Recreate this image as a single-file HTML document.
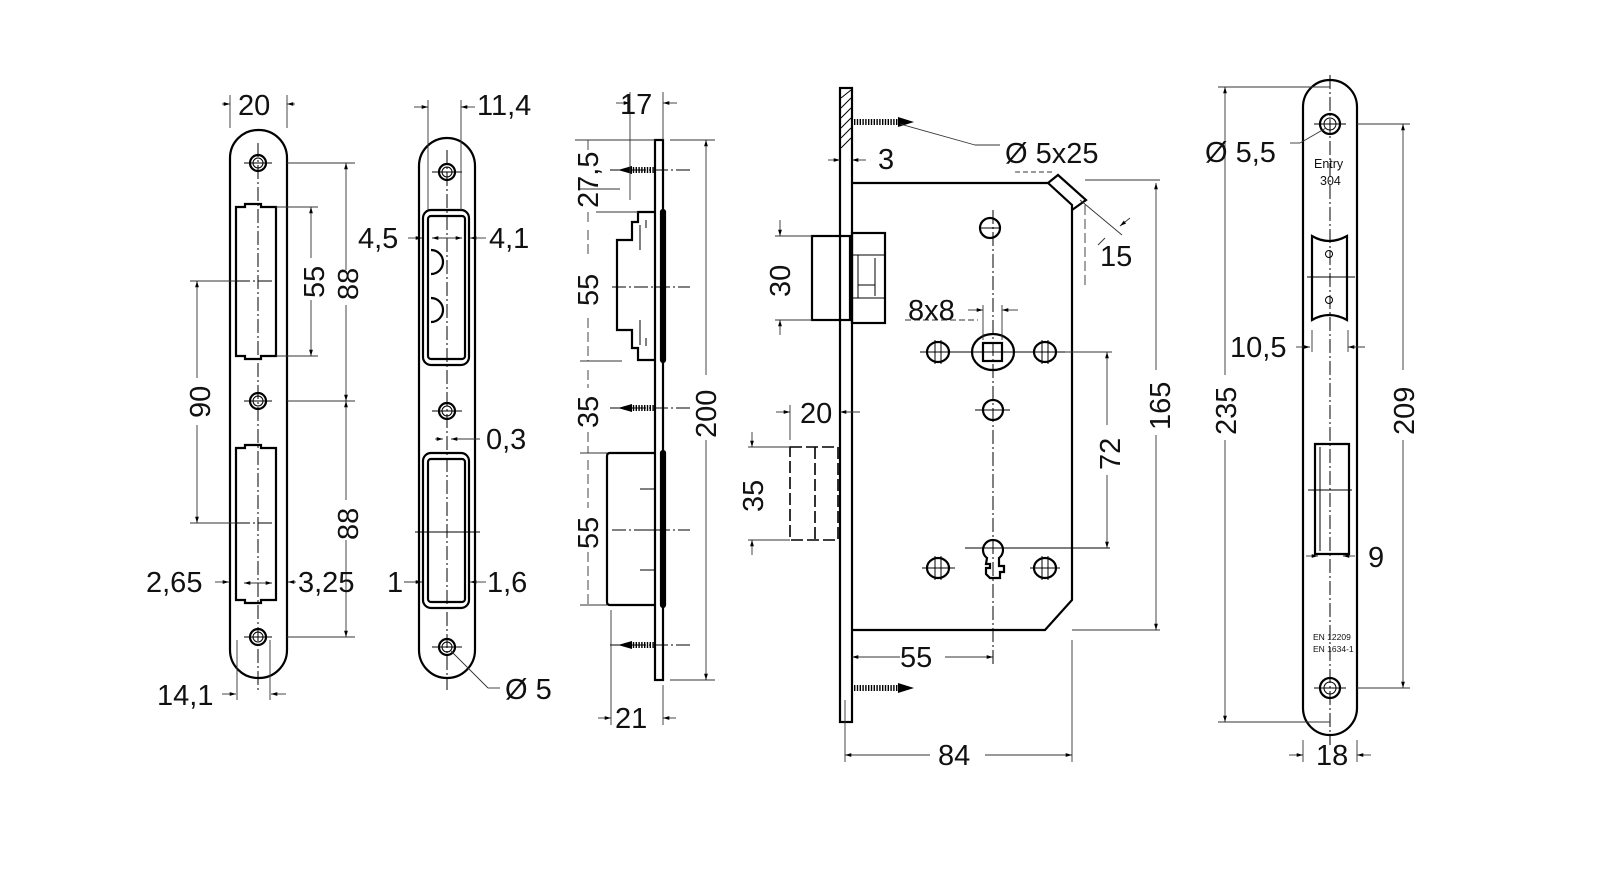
<!DOCTYPE html>
<html><head><meta charset="utf-8"><style>
html,body{margin:0;padding:0;background:#fff;width:1600px;height:873px;overflow:hidden}
svg{display:block}
text{font-family:"Liberation Sans",Arial,sans-serif;font-size:29px;fill:#111}
.o{fill:none;stroke:#000;stroke-width:2.2}
.t{fill:none;stroke:#000;stroke-width:1}
.d{fill:none;stroke:#000;stroke-width:1;stroke-dasharray:14 3 2 3}
.dim{fill:none;stroke:#333;stroke-width:0.9}
.ds{fill:none;stroke:#000;stroke-width:1.6;stroke-dasharray:12 4}
.scr{fill:none;stroke:#000;stroke-width:6;stroke-dasharray:1.4 1.4}
</style></head><body>
<svg width="1600" height="873" viewBox="0 0 1600 873" xmlns="http://www.w3.org/2000/svg">
<defs>
<marker id="a" viewBox="0 0 10 10" refX="10" refY="5" markerWidth="7" markerHeight="7" orient="auto-start-reverse"><path d="M0,2 L10,5 L0,8z" fill="#000"/></marker>
</defs>

<!-- ============ PLATE 1 ============ -->
<rect class="o" x="230" y="130" width="57" height="548" rx="28"/>
<path class="o" d="M236,207 h9 v-3 h16 v3 h15 v149 h-15 v3 h-16 v-3 h-9z"/>
<path class="o" d="M236,448 h9 v-3 h16 v3 h15 v152 h-15 v3 h-16 v-3 h-9z"/>
<g class="o"><circle cx="258" cy="163" r="8"/><circle cx="258" cy="401" r="8"/><circle cx="258" cy="637" r="8"/></g>
<g class="t"><circle cx="258" cy="163" r="5"/><circle cx="258" cy="401" r="5"/><circle cx="258" cy="637" r="5"/></g>
<line class="d" x1="258" y1="143" x2="258" y2="690"/>
<g class="t"><line x1="244" y1="163" x2="272" y2="163"/><line x1="244" y1="401" x2="272" y2="401"/><line x1="244" y1="637" x2="272" y2="637"/></g>
<line class="d" x1="236" y1="281" x2="280" y2="281"/><line class="d" x1="236" y1="523" x2="280" y2="523"/>
<!-- dims plate1 -->
<g class="dim">
<line x1="230" y1="95" x2="230" y2="128"/><line x1="287" y1="95" x2="287" y2="128"/>
<line x1="222" y1="104" x2="230" y2="104" marker-end="url(#a)"/><line x1="295" y1="104" x2="287" y2="104" marker-end="url(#a)"/>
<line x1="287" y1="163" x2="355" y2="163"/><line x1="287" y1="401" x2="355" y2="401"/><line x1="287" y1="637" x2="355" y2="637"/>
<line x1="346" y1="270" x2="346" y2="163" marker-end="url(#a)"/><line x1="346" y1="305" x2="346" y2="401" marker-end="url(#a)"/>
<line x1="346" y1="500" x2="346" y2="401" marker-end="url(#a)"/><line x1="346" y1="540" x2="346" y2="637" marker-end="url(#a)"/>
<line x1="276" y1="207" x2="318" y2="207"/><line x1="276" y1="356" x2="318" y2="356"/>
<line x1="311" y1="258" x2="311" y2="207" marker-end="url(#a)"/><line x1="311" y1="300" x2="311" y2="356" marker-end="url(#a)"/>
<line x1="190" y1="281" x2="236" y2="281"/><line x1="190" y1="523" x2="236" y2="523"/>
<line x1="197" y1="378" x2="197" y2="281" marker-end="url(#a)"/><line x1="197" y1="425" x2="197" y2="523" marker-end="url(#a)"/>
<line x1="215" y1="582" x2="229" y2="582" marker-end="url(#a)"/><line x1="296" y1="582" x2="288" y2="582" marker-end="url(#a)"/>
<line x1="244" y1="583" x2="272" y2="583" marker-start="url(#a)" marker-end="url(#a)"/>
<line x1="237" y1="640" x2="237" y2="700"/><line x1="270" y1="640" x2="270" y2="700"/>
<line x1="222" y1="694" x2="236" y2="694" marker-end="url(#a)"/><line x1="286" y1="694" x2="271" y2="694" marker-end="url(#a)"/>
</g>
<text x="238" y="115">20</text>
<text transform="translate(324,298) rotate(-90)">55</text>
<text transform="translate(358,300) rotate(-90)">88</text>
<text transform="translate(358,540) rotate(-90)">88</text>
<text transform="translate(210,418) rotate(-90)">90</text>
<text x="146" y="592">2,65</text>
<text x="298" y="592">3,25</text>
<text x="157" y="705">14,1</text>

<!-- ============ PLATE 2 ============ -->
<rect class="o" x="419" y="138" width="56" height="540" rx="28"/>
<rect class="o" x="423" y="210" width="46" height="155" rx="8"/>
<rect class="o" x="428" y="216" width="37" height="143" rx="3"/>
<rect class="o" x="423" y="453" width="46" height="155" rx="8"/>
<rect class="o" x="428" y="459" width="37" height="143" rx="3"/>
<path class="o" d="M431,250 a12,12 0 0 1 0,24 M431,298 a12,12 0 0 1 0,24"/>
<g class="o"><circle cx="447" cy="172" r="8"/><circle cx="447" cy="411" r="8"/><circle cx="447" cy="647" r="8"/></g>
<g class="t"><circle cx="447" cy="172" r="5"/><circle cx="447" cy="411" r="5"/><circle cx="447" cy="647" r="5"/></g>
<line class="d" x1="447" y1="150" x2="447" y2="690"/>
<g class="t"><line x1="432" y1="172" x2="462" y2="172"/><line x1="432" y1="411" x2="462" y2="411"/><line x1="432" y1="647" x2="462" y2="647"/>
<line x1="415" y1="532" x2="480" y2="532"/></g>
<g class="dim">
<line x1="428" y1="100" x2="428" y2="210"/><line x1="461" y1="100" x2="461" y2="210"/>
<line x1="414" y1="107" x2="428" y2="107" marker-end="url(#a)"/><line x1="475" y1="107" x2="461" y2="107" marker-end="url(#a)"/>
<line x1="408" y1="238" x2="422" y2="238" marker-end="url(#a)"/><line x1="486" y1="238" x2="470" y2="238" marker-end="url(#a)"/>
<line x1="432" y1="238" x2="462" y2="238" marker-start="url(#a)" marker-end="url(#a)"/>
<line x1="435" y1="439" x2="443" y2="439" marker-end="url(#a)"/><line x1="480" y1="439" x2="451" y2="439" marker-end="url(#a)"/>
<line x1="404" y1="582" x2="422" y2="582" marker-end="url(#a)"/><line x1="486" y1="582" x2="470" y2="582" marker-end="url(#a)"/>
<line x1="451" y1="651" x2="488" y2="688"/><line x1="488" y1="688" x2="500" y2="688"/>
</g>
<text x="477" y="115">11,4</text>
<text x="358" y="248">4,5</text>
<text x="489" y="248">4,1</text>
<text x="486" y="449">0,3</text>
<text x="387" y="592">1</text>
<text x="487" y="592">1,6</text>
<text x="505" y="699">Ø 5</text>

<!-- ============ SIDE VIEW ============ -->
<rect class="o" x="655" y="140" width="8" height="540"/>
<path class="o" d="M655,212 L638,212 L638,222 L632,222 L632,240 L617,240 L617,330 L632,330 L632,348 L638,348 L638,360 L655,360"/>
<path class="t" d="M646,220 v8 M646,338 v8 M640,250 v-25 M640,320 v25"/>
<rect class="o" x="661" y="210" width="4" height="152" rx="2"/>
<path class="o" d="M655,453 L610,453 Q607,453 607,456 L607,602 Q607,605 610,605 L655,605"/>
<rect class="o" x="661" y="451" width="4" height="156" rx="2"/>
<g class="t"><line x1="640" y1="489" x2="655" y2="489"/><line x1="640" y1="530" x2="655" y2="530"/><line x1="640" y1="570" x2="655" y2="570"/></g>
<g class="scr"><line x1="630" y1="170" x2="655" y2="170"/><line x1="630" y1="408" x2="655" y2="408"/><line x1="630" y1="645" x2="655" y2="645"/></g>
<g fill="#000"><path d="M618,170 L632,166 L632,174z"/><path d="M618,408 L632,404 L632,412z"/><path d="M618,645 L632,641 L632,649z"/></g>
<g class="d"><line x1="610" y1="170" x2="690" y2="170"/><line x1="610" y1="408" x2="690" y2="408"/><line x1="610" y1="645" x2="690" y2="645"/>
<line x1="612" y1="287" x2="690" y2="287"/><line x1="612" y1="530" x2="690" y2="530"/></g>
<g class="dim">
<line x1="630" y1="92" x2="630" y2="200"/><line x1="663" y1="92" x2="663" y2="140"/>
<line x1="616" y1="103" x2="630" y2="103" marker-end="url(#a)"/><line x1="677" y1="103" x2="663" y2="103" marker-end="url(#a)"/>
<line x1="575" y1="140" x2="655" y2="140"/><line x1="670" y1="140" x2="715" y2="140"/><line x1="670" y1="680" x2="715" y2="680"/>
<line x1="706" y1="375" x2="706" y2="140" marker-end="url(#a)"/><line x1="706" y1="440" x2="706" y2="680" marker-end="url(#a)"/>
<line x1="580" y1="189" x2="617" y2="189"/><line x1="580" y1="361" x2="622" y2="361"/><line x1="580" y1="453" x2="607" y2="453"/><line x1="580" y1="605" x2="607" y2="605"/>
<line x1="595" y1="189" x2="620" y2="189"/><line x1="596" y1="212" x2="638" y2="212"/>
<line x1="588" y1="150" x2="588" y2="140"/><line x1="588" y1="212" x2="588" y2="222"/>
<line x1="588" y1="230" x2="588" y2="258" stroke-dasharray="10 4"/><line x1="588" y1="318" x2="588" y2="361" stroke-dasharray="10 4"/>
<line x1="588" y1="370" x2="588" y2="388" stroke-dasharray="10 4"/><line x1="588" y1="432" x2="588" y2="453" stroke-dasharray="10 4"/>
<line x1="588" y1="460" x2="588" y2="508" stroke-dasharray="10 4"/><line x1="588" y1="552" x2="588" y2="605" stroke-dasharray="10 4"/>
<line x1="611" y1="610" x2="611" y2="725"/><line x1="663" y1="685" x2="663" y2="725"/>
<line x1="598" y1="718" x2="611" y2="718" marker-end="url(#a)"/><line x1="676" y1="718" x2="663" y2="718" marker-end="url(#a)"/>
</g>
<text x="620" y="114">17</text>
<text transform="translate(598,208) rotate(-90)">27,5</text>
<text transform="translate(598,306) rotate(-90)">55</text>
<text transform="translate(598,428) rotate(-90)">35</text>
<text transform="translate(598,549) rotate(-90)">55</text>
<text transform="translate(716,438) rotate(-90)">200</text>
<text x="615" y="728">21</text>

<!-- ============ LOCK BODY ============ -->
<rect class="o" x="840" y="88" width="12" height="634"/>
<path class="t" d="M841,98 l10,-8 M841,108 l10,-10 M841,118 l10,-10 M841,128 l10,-10 M841,138 l10,-10 M841,148 l10,-10"/>
<path class="o" d="M852,183 L1048,183 L1072,205 L1072,600 L1045,630 L852,630"/>
<path class="o" d="M1048,183 L1058,175 L1086,200 L1072,210"/>
<rect class="o" x="812" y="236" width="38" height="84"/>
<rect class="o" x="852" y="233" width="33" height="90"/>
<path class="t" d="M852,255 h33 M852,298 h33 M858,255 v43 M875,258 v38 M858,285 h17"/>
<path class="ds" d="M790,447 h48 v93 h-48 z M815,447 v93"/>
<g class="scr"><line x1="854" y1="122" x2="900" y2="122"/><line x1="854" y1="688" x2="900" y2="688"/></g>
<g fill="#000"><path d="M914,122 L898,117 L898,127z"/><path d="M914,688 L898,683 L898,693z"/></g>
<!-- holes -->
<g class="o">
<circle cx="990" cy="228" r="10"/><ellipse cx="938" cy="352" rx="11" ry="10"/><ellipse cx="1045" cy="352" rx="11" ry="10"/>
<ellipse cx="993" cy="352" rx="21" ry="18"/><rect x="983" y="343" width="19" height="18"/>
<circle cx="993" cy="410" r="10"/>
<ellipse cx="938" cy="568" rx="11" ry="10"/><ellipse cx="1045" cy="568" rx="11" ry="10"/>
<path d="M987,558 a10,10 0 1 1 12,0 v8 h5 v6 h-4 v6 h-10 l-4,-4 v-6 h4 v-4 h-4z"/>
</g>
<g class="t"><line x1="980" y1="228" x2="1000" y2="228"/><line x1="920" y1="352" x2="1065" y2="352"/><line x1="975" y1="410" x2="1010" y2="410"/>
<line x1="922" y1="568" x2="955" y2="568"/><line x1="1030" y1="568" x2="1060" y2="568"/><line x1="965" y1="548" x2="1110" y2="548"/>
<line x1="935" y1="340" x2="935" y2="364"/><line x1="941" y1="340" x2="941" y2="364"/><line x1="1042" y1="340" x2="1042" y2="364"/><line x1="1048" y1="340" x2="1048" y2="364"/>
<line x1="935" y1="556" x2="935" y2="580"/><line x1="941" y1="556" x2="941" y2="580"/><line x1="1042" y1="556" x2="1042" y2="580"/><line x1="1048" y1="556" x2="1048" y2="580"/></g>
<line class="d" x1="993" y1="210" x2="993" y2="665"/>
<g class="dim">
<line x1="900" y1="124" x2="975" y2="145"/><line x1="975" y1="145" x2="1000" y2="145"/>
<line x1="828" y1="160" x2="840" y2="160" marker-end="url(#a)"/><line x1="866" y1="160" x2="852" y2="160" marker-end="url(#a)"/>
<line x1="1015" y1="172" x2="1052" y2="172" stroke-dasharray="5 3"/>
<line x1="1085" y1="180" x2="1160" y2="180"/><line x1="1080" y1="200" x2="1122" y2="235"/>
<line x1="1085" y1="205" x2="1085" y2="285" stroke-dasharray="10 4"/>
<line x1="1098" y1="245" x2="1105" y2="238" /><line x1="1130" y1="218" x2="1120" y2="226" marker-end="url(#a)"/>
<line x1="1072" y1="630" x2="1160" y2="630"/>
<line x1="1156" y1="370" x2="1156" y2="183" marker-end="url(#a)"/><line x1="1156" y1="435" x2="1156" y2="630" marker-end="url(#a)"/>
<line x1="1065" y1="352" x2="1112" y2="352"/>
<line x1="1107" y1="425" x2="1107" y2="352" marker-end="url(#a)"/><line x1="1107" y1="475" x2="1107" y2="548" marker-end="url(#a)"/>
<line x1="775" y1="236" x2="812" y2="236"/><line x1="775" y1="320" x2="812" y2="320"/>
<line x1="780" y1="220" x2="780" y2="236" marker-end="url(#a)"/><line x1="780" y1="335" x2="780" y2="320" marker-end="url(#a)"/>
<line x1="748" y1="447" x2="790" y2="447"/><line x1="748" y1="540" x2="790" y2="540"/>
<line x1="752" y1="432" x2="752" y2="447" marker-end="url(#a)"/><line x1="752" y1="555" x2="752" y2="540" marker-end="url(#a)"/>
<line x1="790" y1="405" x2="790" y2="440"/><line x1="776" y1="412" x2="790" y2="412" marker-end="url(#a)"/><line x1="860" y1="412" x2="840" y2="412" marker-end="url(#a)"/>
<line x1="905" y1="320" x2="978" y2="320" stroke-dasharray="6 3"/><line x1="968" y1="310" x2="983" y2="310" marker-end="url(#a)"/><line x1="1018" y1="310" x2="1002" y2="310" marker-end="url(#a)"/>
<line x1="983" y1="305" x2="983" y2="340"/><line x1="1002" y1="305" x2="1002" y2="340"/>
<line x1="900" y1="657" x2="852" y2="657" marker-end="url(#a)"/><line x1="945" y1="657" x2="993" y2="657" marker-end="url(#a)"/>
<line x1="845" y1="700" x2="845" y2="762"/><line x1="1072" y1="640" x2="1072" y2="762"/>
<line x1="930" y1="755" x2="845" y2="755" marker-end="url(#a)"/><line x1="985" y1="755" x2="1072" y2="755" marker-end="url(#a)"/>
</g>
<text x="1005" y="163">Ø 5x25</text>
<text x="878" y="169">3</text>
<text x="1100" y="266">15</text>
<text transform="translate(1170,430) rotate(-90)">165</text>
<text transform="translate(1120,470) rotate(-90)">72</text>
<text transform="translate(790,297) rotate(-90)">30</text>
<text transform="translate(763,512) rotate(-90)">35</text>
<text x="800" y="423">20</text>
<text x="908" y="320">8x8</text>
<text x="900" y="667">55</text>
<text x="938" y="765">84</text>

<!-- ============ RIGHT PLATE ============ -->
<rect class="o" x="1303" y="80" width="54" height="655" rx="27"/>
<g class="o"><circle cx="1330" cy="124" r="10"/><circle cx="1330" cy="688" r="10"/></g>
<g class="t"><circle cx="1330" cy="124" r="6"/><circle cx="1330" cy="688" r="6"/>
<circle cx="1329" cy="254" r="3.5"/><circle cx="1329" cy="300" r="3.5"/>
<line x1="1314" y1="124" x2="1346" y2="124"/><line x1="1314" y1="688" x2="1346" y2="688"/>
<line x1="1307" y1="277" x2="1355" y2="277"/><line x1="1308" y1="490" x2="1352" y2="490"/></g>
<path class="o" d="M1312,236 Q1329,246 1347,236 L1347,320 Q1329,310 1312,320 Z"/>
<path class="o" d="M1315,444 h34 v110 h-34 z"/>
<line class="t" x1="1320" y1="447" x2="1320" y2="551"/>
<line class="d" x1="1330" y1="75" x2="1330" y2="745"/>
<text x="1314" y="168" style="font-size:12.5px">Entry</text>
<text x="1320" y="185" style="font-size:12.5px">304</text>
<text x="1313" y="640" style="font-size:8.5px">EN 12209</text>
<text x="1313" y="652" style="font-size:8.5px">EN 1634-1</text>
<g class="dim">
<line x1="1218" y1="87" x2="1330" y2="87"/><line x1="1218" y1="722" x2="1330" y2="722"/>
<line x1="1225" y1="375" x2="1225" y2="87" marker-end="url(#a)"/><line x1="1225" y1="440" x2="1225" y2="722" marker-end="url(#a)"/>
<line x1="1357" y1="124" x2="1410" y2="124"/><line x1="1357" y1="688" x2="1410" y2="688"/>
<line x1="1403" y1="370" x2="1403" y2="124" marker-end="url(#a)"/><line x1="1403" y1="440" x2="1403" y2="688" marker-end="url(#a)"/>
<line x1="1290" y1="143" x2="1300" y2="143"/><line x1="1300" y1="143" x2="1326" y2="128"/>
<line x1="1296" y1="347" x2="1310" y2="347" marker-end="url(#a)"/><line x1="1365" y1="347" x2="1348" y2="347" marker-end="url(#a)"/>
<line x1="1312" y1="330" x2="1312" y2="352"/><line x1="1348" y1="330" x2="1348" y2="352"/>
<line x1="1306" y1="556" x2="1318" y2="556" marker-end="url(#a)"/><line x1="1355" y1="556" x2="1343" y2="556" marker-end="url(#a)"/>
<line x1="1303" y1="740" x2="1303" y2="762"/><line x1="1357" y1="740" x2="1357" y2="762"/>
<line x1="1289" y1="755" x2="1303" y2="755" marker-end="url(#a)"/><line x1="1371" y1="755" x2="1357" y2="755" marker-end="url(#a)"/>
</g>
<text x="1205" y="162">Ø 5,5</text>
<text x="1230" y="357">10,5</text>
<text x="1368" y="567">9</text>
<text x="1316" y="765">18</text>
<text transform="translate(1236,435) rotate(-90)">235</text>
<text transform="translate(1414,435) rotate(-90)">209</text>
</svg>
</body></html>
